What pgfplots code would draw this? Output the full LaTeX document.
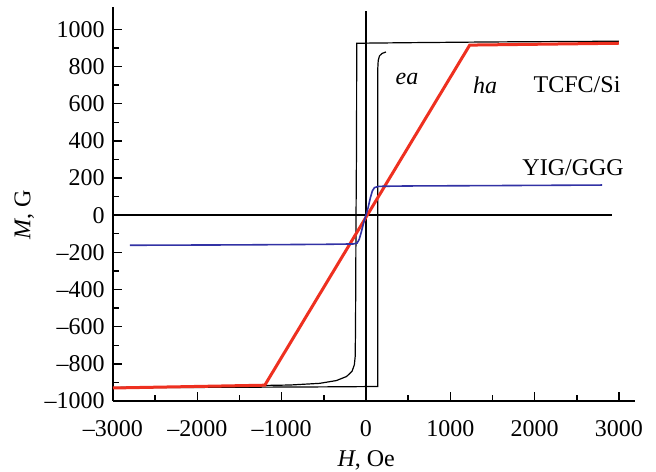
\documentclass[border=0pt]{standalone}
\usepackage{fontspec}
\setmainfont{Liberation Serif}
\usepackage{pgfplots}
\pgfplotsset{compat=1.18}
\definecolor{hared}{RGB}{238,48,32}
\definecolor{yigblue}{RGB}{50,50,165}
\begin{document}
\fontsize{12bp}{14bp}\selectfont
\begin{tikzpicture}
\begin{axis}[
  scale only axis, width=261bp, height=197bp,
  xmin=-3000, xmax=3190, ymin=-1000, ymax=1120,
  axis x line=bottom, axis y line=left,
  axis line style={-, line width=0.9bp},
  tick align=inside,
  tick style={line width=0.7bp, black},
  xtick={-3000,-2000,...,3000},
  xticklabels={–3000,–2000,–1000,0,1000,2000,3000},
  minor xtick={-2500,-1500,...,2500},
  ytick={-1000,-800,...,1000},
  yticklabels={–1000,–800,–600,–400,–200,0,200,400,600,800,1000},
  minor ytick={-900,-700,...,900},
  major tick length=4.5bp, minor tick length=3bp,
  ticklabel style={font=\fontsize{12bp}{14bp}\selectfont},
  xticklabel style={yshift=-5.5bp},
  xlabel={\textit{H}, Oe},
  ylabel={\textit{M}, G},
  xlabel style={at={(axis description cs:0.485,-0.15)}, anchor=center, font=\fontsize{12bp}{14bp}\selectfont},
  ylabel style={at={(axis description cs:-0.17,0.472)}, anchor=center, rotate=0, font=\fontsize{12bp}{14bp}\selectfont},
  clip=false,
]
% reference lines
\addplot[black, line width=0.7bp] coordinates {(-3000,0) (2920,0)};
\addplot[black, line width=0.7bp] coordinates {(0,-1000) (0,1097)};
% easy axis loop
\addplot[black, line width=0.6bp] coordinates {
 (3000,936) (1500,932) (500,928) (-110,925) (-112,400) (-118,0) (-124,-600) (-128,-760)
 (-138,-805) (-165,-840) (-230,-868) (-350,-890) (-550,-905) (-900,-914) (-1800,-921) (-3000,-927)};
\addplot[black, line width=0.6bp] coordinates {
 (-3000,-929) (-1500,-926) (-500,-924) (140,-922) (140,0) (140,790) (145,832) (160,857) (190,870) (237,878)};
% hard axis
\addplot[hared, line width=1.5bp] coordinates {(-3000,-930) (-1200,-915) (1230,915) (3000,925)};
% YIG/GGG
\addplot[yigblue, line width=0.8bp] coordinates {
 (-2800,-162) (-1500,-160) (-500,-157) (-150,-155) (-105,-150) (-80,-130) (-55,-90) (-25,-35) (0,0)
 (25,40) (50,90) (75,130) (100,148) (150,155) (500,157) (1500,159) (2800,162)};
\node at (axis cs:486,735) {\textit{ea}};
\node at (axis cs:1412,700) {\textit{ha}};
\node at (axis cs:2503,700) {TCFC/Si};
\node at (axis cs:2456,254) {YIG/GGG};
\end{axis}
\pgfresetboundingbox
\path[use as bounding box] (-56.5bp,-35.5bp) rectangle (271.5bp,200.5bp);
\end{tikzpicture}
\end{document}
